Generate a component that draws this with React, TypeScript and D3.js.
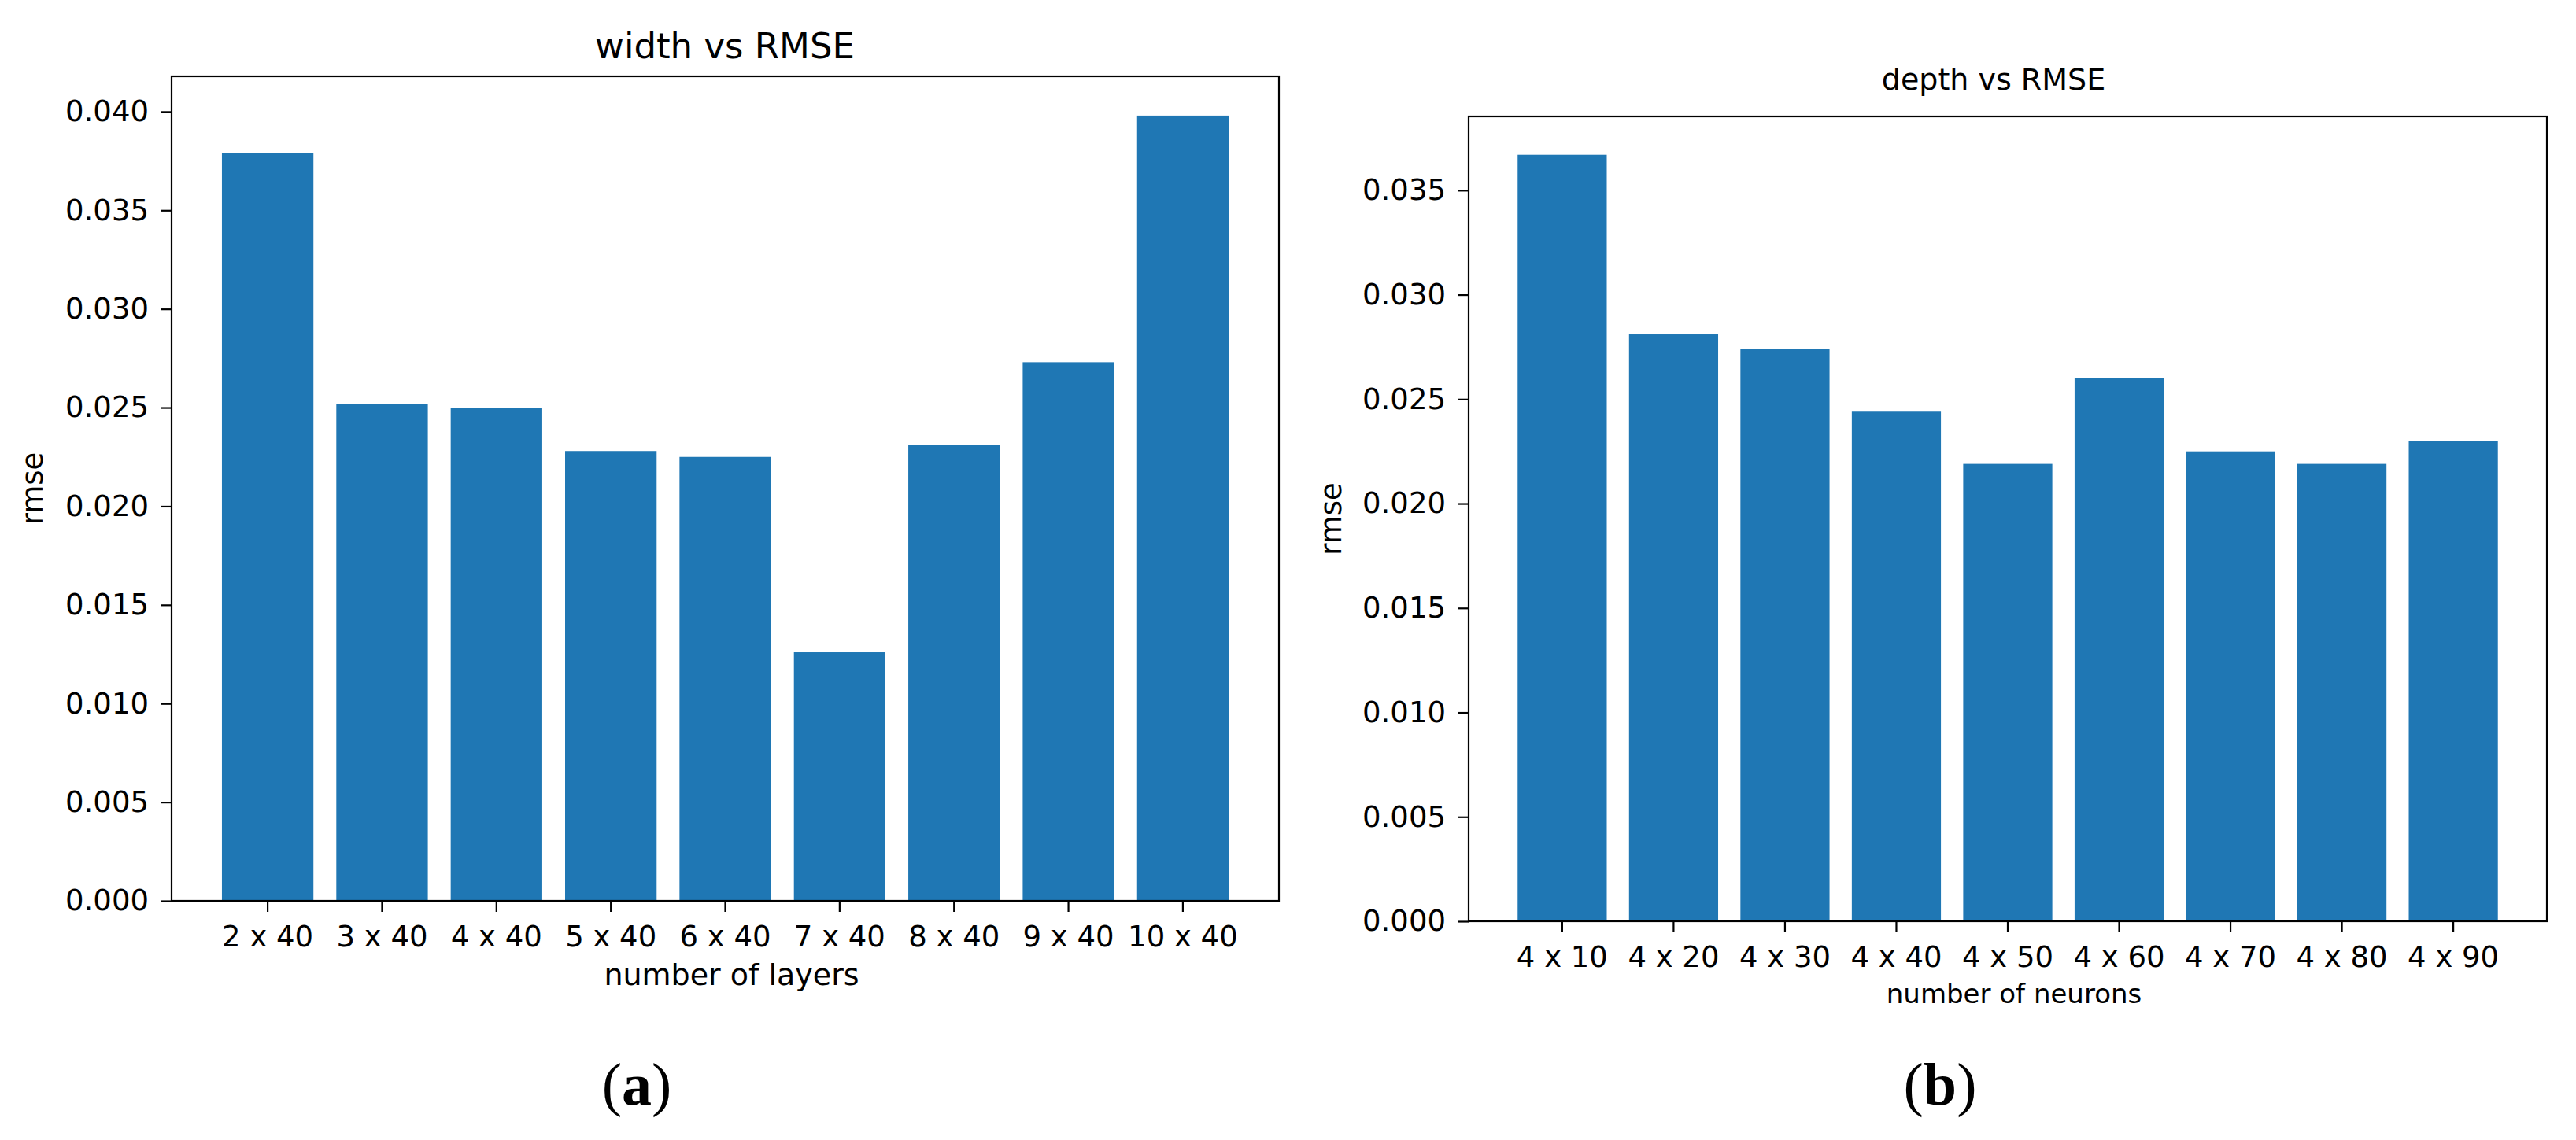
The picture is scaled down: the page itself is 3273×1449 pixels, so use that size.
import React, { useEffect, useRef } from "react";
import * as d3 from "d3";

// left panel: width vs RMSE
const layerLabels = ["2 x 40", "3 x 40", "4 x 40", "5 x 40", "6 x 40", "7 x 40", "8 x 40", "9 x 40", "10 x 40"];
const layerRmse = [0.0379, 0.0252, 0.025, 0.0228, 0.0225, 0.0126, 0.0231, 0.0273, 0.0398];
const layerTicks = [0, 0.005, 0.01, 0.015, 0.02, 0.025, 0.03, 0.035, 0.04];

// right panel: depth vs RMSE
const neuronLabels = ["4 x 10", "4 x 20", "4 x 30", "4 x 40", "4 x 50", "4 x 60", "4 x 70", "4 x 80", "4 x 90"];
const neuronRmse = [0.0367, 0.0281, 0.0274, 0.0244, 0.0219, 0.026, 0.0225, 0.0219, 0.023];
const neuronTicks = [0, 0.005, 0.01, 0.015, 0.02, 0.025, 0.03, 0.035];

const FONT = "DejaVu Sans, sans-serif";
const BAR = "#1f77b4";

interface PanelProps {
  labels: string[];
  values: number[];
  ticks: number[];
  box: { left: number; right: number; top: number; bottom: number };
  title: string;
  titleSize: number;
  titleY: number;
  titleX: number;
  xlabel: string;
  xlabelSize: number;
  xlabelDy: number;
  ylabelX: number;
  caption: string;
  captionX: number;
}

const BarPanel: React.FC<PanelProps> = (p) => {
  const gRef = useRef<SVGGElement | null>(null);

  useEffect(() => {
    const g = d3.select(gRef.current);
    g.selectAll("*").remove();
    const { left, right, top, bottom } = p.box;

    const x = d3
      .scaleBand()
      .domain(p.labels)
      .range([left, right])
      .paddingInner(0.2)
      .paddingOuter(0.44);
    const y = d3
      .scaleLinear()
      .domain([0, (d3.max(p.values) || 0) * 1.05])
      .range([bottom, top]);

    g.selectAll(".bar")
      .data(p.values)
      .enter()
      .append("rect")
      .attr("class", "bar")
      .attr("x", (_d, i) => x(p.labels[i]) || 0)
      .attr("width", x.bandwidth())
      .attr("y", (d) => y(d))
      .attr("height", (d) => bottom - y(d))
      .attr("fill", BAR);

    const yAxis = g
      .append("g")
      .attr("transform", `translate(${left},0)`)
      .call(
        d3
          .axisLeft(y)
          .tickValues(p.ticks)
          .tickFormat(d3.format(".3f"))
          .tickSize(14)
          .tickPadding(15)
      );
    const xAxis = g
      .append("g")
      .attr("transform", `translate(0,${bottom})`)
      .call(d3.axisBottom(x).tickSize(14).tickPadding(18));

    [yAxis, xAxis].forEach((a) => {
      a.select(".domain").remove();
      a.attr("font-size", 37).attr("font-family", FONT);
      a.selectAll("line").attr("stroke", "#000").attr("stroke-width", 2.2);
      a.selectAll("text").attr("fill", "#000");
    });

    g.append("rect")
      .attr("x", left)
      .attr("y", top)
      .attr("width", right - left)
      .attr("height", bottom - top)
      .attr("fill", "none")
      .attr("stroke", "#000")
      .attr("stroke-width", 2.2);

    g.append("text")
      .attr("x", p.titleX)
      .attr("y", p.titleY)
      .attr("text-anchor", "middle")
      .attr("font-family", FONT)
      .attr("font-size", p.titleSize)
      .text(p.title);

    g.append("text")
      .attr("x", (left + right) / 2 + 8)
      .attr("y", bottom + p.xlabelDy)
      .attr("text-anchor", "middle")
      .attr("font-family", FONT)
      .attr("font-size", p.xlabelSize)
      .text(p.xlabel);

    g.append("text")
      .attr("transform", `translate(${p.ylabelX},${(top + bottom) / 2}) rotate(-90)`)
      .attr("text-anchor", "middle")
      .attr("font-family", FONT)
      .attr("font-size", 37)
      .text("rmse");

    const cap = g
      .append("text")
      .attr("x", p.captionX)
      .attr("y", 1404)
      .attr("text-anchor", "middle")
      .attr("font-family", "Liberation Serif, serif")
      .attr("font-size", 76);
    cap.append("tspan").text("(");
    cap.append("tspan").attr("font-weight", "bold").text(p.caption);
    cap.append("tspan").text(")");
  }, [p]);

  return <g ref={gRef}></g>;
};

const App: React.FC = () => {
  return (
    <div style={{ position: "absolute", left: 0, top: 0 }}>
      <svg width={3273} height={1449} style={{ display: "block", background: "#fff" }}>
        <BarPanel
          labels={layerLabels}
          values={layerRmse}
          ticks={layerTicks}
          box={{ left: 218, right: 1625, top: 97, bottom: 1145 }}
          title="width vs RMSE"
          titleSize={45}
          titleX={921}
          titleY={74}
          xlabel="number of layers"
          xlabelSize={38}
          xlabelDy={107}
          ylabelX={54}
          caption="a"
          captionX={809}
        />
        <BarPanel
          labels={neuronLabels}
          values={neuronRmse}
          ticks={neuronTicks}
          box={{ left: 1866, right: 3236, top: 148, bottom: 1171 }}
          title="depth vs RMSE"
          titleSize={38}
          titleX={2533}
          titleY={114}
          xlabel="number of neurons"
          xlabelSize={34}
          xlabelDy={104}
          ylabelX={1704}
          caption="b"
          captionX={2465}
        />
      </svg>
    </div>
  );
};

export default App;
